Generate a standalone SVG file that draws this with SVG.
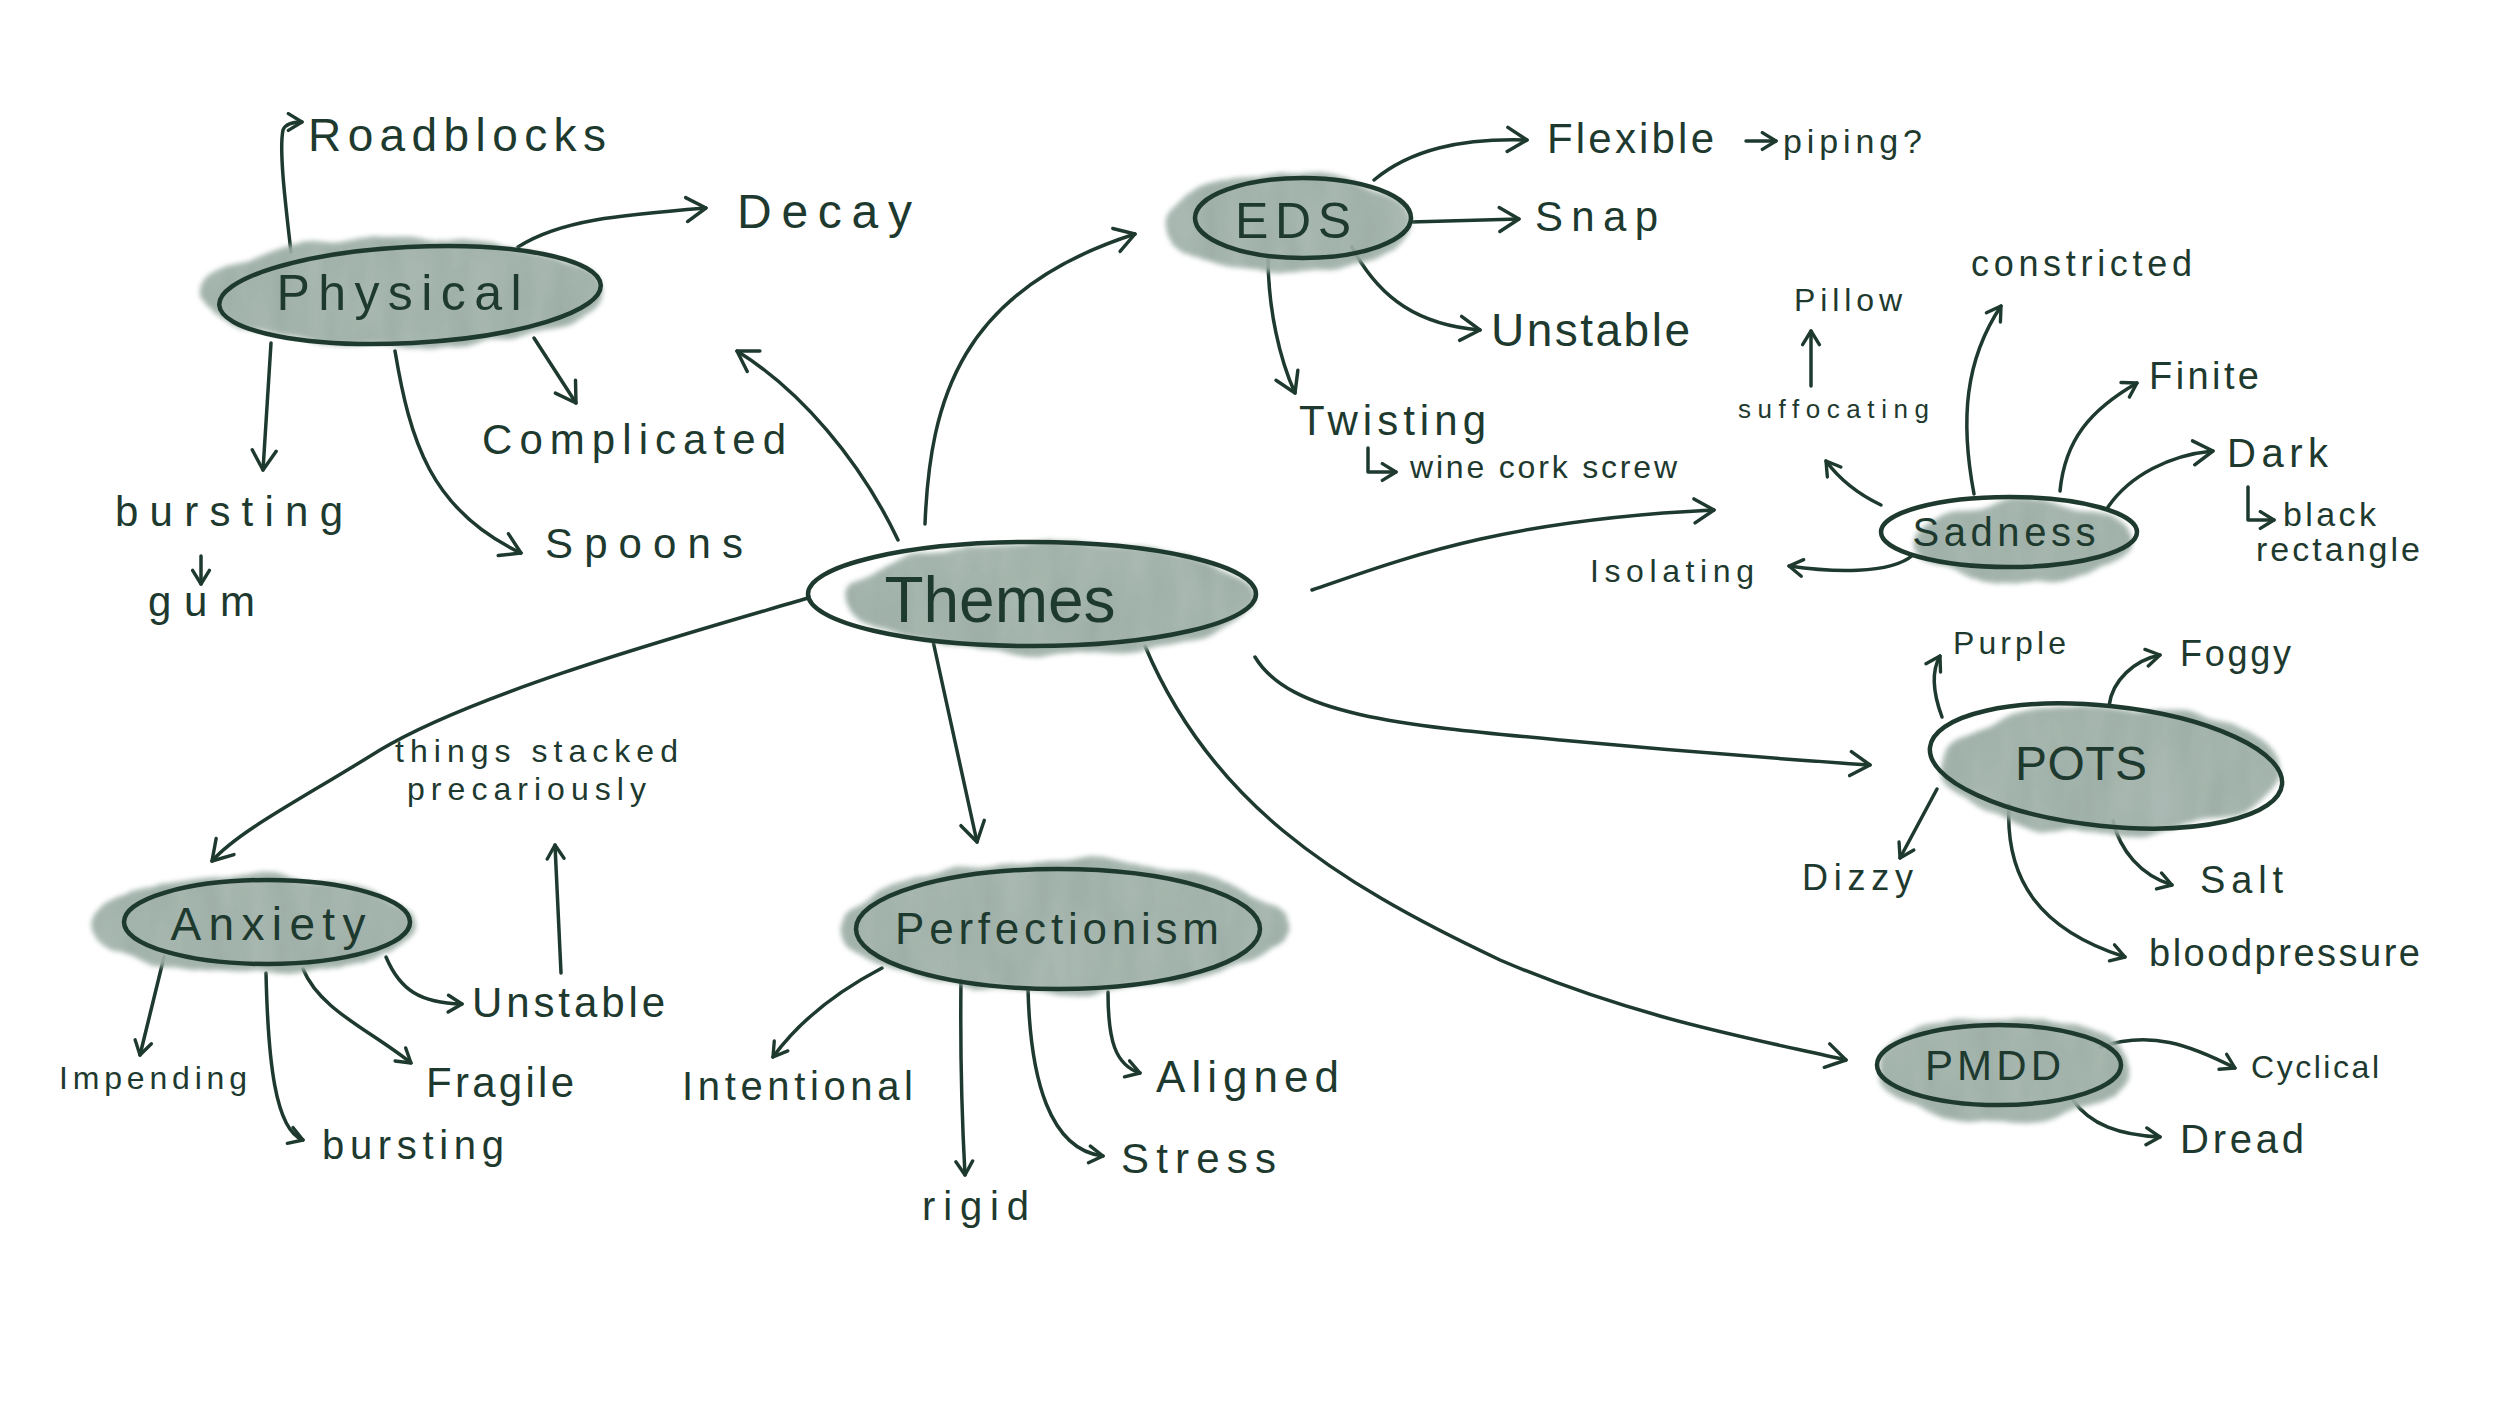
<svg xmlns="http://www.w3.org/2000/svg" width="2500" height="1407" viewBox="0 0 2500 1407">
<style>
.ln{fill:none;stroke:#1e3a2f;stroke-width:3.5;stroke-linecap:round;stroke-linejoin:round}
.ol{fill:none;stroke:#1e3a2f;stroke-width:4.5}
.bl{fill:#93a69d;opacity:0.92}
text{font-family:"Liberation Sans","DejaVu Sans",sans-serif;fill:#1e3a2f}
.nt{text-anchor:middle}
</style>
<defs>
<filter id="wash" x="-20%" y="-40%" width="140%" height="180%">
<feTurbulence type="fractalNoise" baseFrequency="0.018" numOctaves="2" seed="7" result="n"/>
<feDisplacementMap in="SourceGraphic" in2="n" scale="16" xChannelSelector="R" yChannelSelector="G" result="d"/>
<feGaussianBlur in="d" stdDeviation="2.5" result="b"/>
<feTurbulence type="fractalNoise" baseFrequency="0.04 0.012" numOctaves="2" seed="2" result="t"/>
<feColorMatrix in="t" type="matrix" values="0 0 0 0 0.55  0 0 0 0 0.63  0 0 0 0 0.6  0 0 0 0.35 0" result="tc"/>
<feComposite in="tc" in2="b" operator="in" result="tx"/>
<feMerge><feMergeNode in="b"/><feMergeNode in="tx"/></feMerge>
</filter>
<marker id="ah" viewBox="0 0 20 20" refX="16" refY="10" markerWidth="30" markerHeight="30" markerUnits="userSpaceOnUse" orient="auto">
<path d="M3,2 L16,10 L3,18" fill="none" stroke="#1e3a2f" stroke-width="2.3" stroke-linecap="round" stroke-linejoin="round"/>
</marker>
<marker id="as" viewBox="0 0 20 20" refX="16" refY="10" markerWidth="21" markerHeight="21" markerUnits="userSpaceOnUse" orient="auto">
<path d="M3,2 L16,10 L3,18" fill="none" stroke="#1e3a2f" stroke-width="3.2" stroke-linecap="round" stroke-linejoin="round"/>
</marker>
</defs>
<rect width="2500" height="1407" fill="#ffffff"/>

<g id="connectors" class="ln">
<path d="M291,252 C285,200 279,150 283,130 Q286,122 302,122" marker-end="url(#as)"/>
<path d="M518,247 C560,220 620,215 706,208" marker-end="url(#ah)"/>
<path d="M534,338 L576,403" marker-end="url(#ah)"/>
<path d="M395,351 C410,440 430,510 521,553" marker-end="url(#ah)"/>
<path d="M271,343 L263,470" marker-end="url(#ah)"/>
<path d="M201,556 L201,584" marker-end="url(#as)"/>
<path d="M898,540 C860,460 800,390 737,351" marker-end="url(#ah)"/>
<path d="M925,524 C930,400 960,290 1135,234" marker-end="url(#ah)"/>
<path d="M1374,180 C1410,150 1460,138 1527,140" marker-end="url(#ah)"/>
<path d="M1411,222 L1519,219" marker-end="url(#ah)"/>
<path d="M1352,247 C1380,300 1420,325 1480,330" marker-end="url(#ah)"/>
<path d="M1268,256 C1268,310 1280,360 1295,393" marker-end="url(#ah)"/>
<path d="M1746,141 L1776,141" marker-end="url(#as)"/>
<path d="M1368,448 L1368,472 L1396,472" marker-end="url(#as)"/>
<path d="M1312,590 C1400,560 1500,520 1714,510" marker-end="url(#ah)"/>
<path d="M1913,555 C1890,575 1830,572 1789,566" marker-end="url(#as)"/>
<path d="M1881,505 C1860,495 1840,480 1826,461" marker-end="url(#as)"/>
<path d="M1811,386 L1811,331" marker-end="url(#as)"/>
<path d="M1974,494 C1960,420 1965,360 2001,306" marker-end="url(#as)"/>
<path d="M2060,491 C2065,440 2090,410 2137,383" marker-end="url(#as)"/>
<path d="M2108,507 C2130,475 2170,455 2213,451" marker-end="url(#ah)"/>
<path d="M2248,487 L2248,520 L2274,520" marker-end="url(#as)"/>
<path d="M1255,657 C1290,715 1400,725 1560,740 S1800,760 1870,765" marker-end="url(#ah)"/>
<path d="M1942,717 C1932,690 1932,670 1940,656" marker-end="url(#as)"/>
<path d="M2109,706 C2112,680 2135,660 2160,655" marker-end="url(#as)"/>
<path d="M1937,789 L1900,858" marker-end="url(#as)"/>
<path d="M2113,821 C2120,850 2140,875 2172,885" marker-end="url(#as)"/>
<path d="M2009,805 C2005,880 2040,930 2125,957" marker-end="url(#as)"/>
<path d="M1145,646 C1210,800 1330,880 1500,960 C1640,1020 1760,1040 1846,1060" marker-end="url(#ah)"/>
<path d="M2101,1047 C2150,1030 2190,1045 2235,1068" marker-end="url(#as)"/>
<path d="M2073,1100 C2090,1125 2120,1135 2160,1137" marker-end="url(#as)"/>
<path d="M933,641 C950,720 965,790 977,842" marker-end="url(#ah)"/>
<path d="M882,968 C840,990 800,1020 773,1057" marker-end="url(#as)"/>
<path d="M961,980 C960,1060 962,1120 965,1175" marker-end="url(#as)"/>
<path d="M1028,988 C1030,1080 1050,1150 1103,1156" marker-end="url(#as)"/>
<path d="M1108,992 C1108,1040 1115,1065 1140,1073" marker-end="url(#as)"/>
<path d="M808,598 C700,630 480,690 380,750 C300,800 240,830 212,861" marker-end="url(#ah)"/>
<path d="M164,957 L140,1055" marker-end="url(#as)"/>
<path d="M266,973 C268,1060 275,1130 303,1140" marker-end="url(#as)"/>
<path d="M303,969 C320,1010 370,1030 411,1063" marker-end="url(#as)"/>
<path d="M386,957 C400,990 420,1003 462,1004" marker-end="url(#as)"/>
<path d="M561,973 L555,845" marker-end="url(#as)"/>
</g>

<g id="node-themes">
<ellipse class="bl" cx="1052" cy="598" rx="205" ry="55" filter="url(#wash)"/>
<ellipse class="ol" cx="1032" cy="594" rx="224" ry="52"/>
<text class="nt" x="1000" y="622" font-size="64" textLength="231" lengthAdjust="spacing">Themes</text>
</g>
<g id="node-physical">
<ellipse class="bl" cx="402" cy="292" rx="200" ry="54" filter="url(#wash)"/>
<ellipse class="ol" cx="410" cy="295" rx="191" ry="48" transform="rotate(-3 410 295)"/>
<text class="nt" x="399" y="310" font-size="50" textLength="245" lengthAdjust="spacing">Physical</text>
</g>
<g id="node-eds">
<ellipse class="bl" cx="1288" cy="223" rx="122" ry="49" filter="url(#wash)"/>
<ellipse class="ol" cx="1303" cy="218" rx="108" ry="40"/>
<text class="nt" x="1293" y="238" font-size="50" textLength="116" lengthAdjust="spacing">EDS</text>
</g>
<g id="node-sadness">
<ellipse class="bl" cx="2022" cy="541" rx="106" ry="40" filter="url(#wash)"/>
<ellipse class="ol" cx="2009" cy="532" rx="128" ry="35"/>
<text class="nt" x="2004" y="546" font-size="40" textLength="183" lengthAdjust="spacing">Sadness</text>
</g>
<g id="node-pots">
<ellipse class="bl" cx="2110" cy="770" rx="170" ry="64" filter="url(#wash)"/>
<ellipse class="ol" cx="2106" cy="766" rx="177" ry="60" transform="rotate(6 2106 766)"/>
<text class="nt" x="2081" y="780" font-size="48" textLength="132" lengthAdjust="spacing">POTS</text>
</g>
<g id="node-pmdd">
<ellipse class="bl" cx="2003" cy="1070" rx="127" ry="52" filter="url(#wash)"/>
<ellipse class="ol" cx="1999" cy="1065" rx="122" ry="40"/>
<text class="nt" x="1993" y="1080" font-size="42" textLength="136" lengthAdjust="spacing">PMDD</text>
</g>
<g id="node-perfectionism">
<ellipse class="bl" cx="1064" cy="927" rx="222" ry="66" filter="url(#wash)"/>
<ellipse class="ol" cx="1058" cy="929" rx="202" ry="60"/>
<text class="nt" x="1057" y="944" font-size="44" textLength="324" lengthAdjust="spacing">Perfectionism</text>
</g>
<g id="node-anxiety">
<ellipse class="bl" cx="253" cy="925" rx="162" ry="49" filter="url(#wash)"/>
<ellipse class="ol" cx="267" cy="922" rx="143" ry="42"/>
<text class="nt" x="268" y="940" font-size="46" textLength="195" lengthAdjust="spacing">Anxiety</text>
</g>

<g id="labels">
<text x="308" y="151" font-size="46" textLength="298" lengthAdjust="spacing">Roadblocks</text>
<text x="737" y="228" font-size="48" textLength="175" lengthAdjust="spacing">Decay</text>
<text x="482" y="454" font-size="42" textLength="304" lengthAdjust="spacing">Complicated</text>
<text x="545" y="558" font-size="42" textLength="198" lengthAdjust="spacing">Spoons</text>
<text x="115" y="526" font-size="42" textLength="228" lengthAdjust="spacing">bursting</text>
<text x="148" y="616" font-size="42" textLength="107" lengthAdjust="spacing">gum</text>
<text x="1547" y="153" font-size="42" textLength="167" lengthAdjust="spacing">Flexible</text>
<text x="1783" y="153" font-size="34" textLength="139" lengthAdjust="spacing">piping?</text>
<text x="1535" y="231" font-size="42" textLength="123" lengthAdjust="spacing">Snap</text>
<text x="1491" y="346" font-size="46" textLength="199" lengthAdjust="spacing">Unstable</text>
<text x="1299" y="435" font-size="42" textLength="187" lengthAdjust="spacing">Twisting</text>
<text x="1410" y="478" font-size="32" textLength="267" lengthAdjust="spacing">wine cork screw</text>
<text x="1794" y="311" font-size="32" textLength="108" lengthAdjust="spacing">Pillow</text>
<text x="1738" y="418" font-size="26" textLength="191" lengthAdjust="spacing">suffocating</text>
<text x="1971" y="276" font-size="36" textLength="221" lengthAdjust="spacing">constricted</text>
<text x="2149" y="389" font-size="38" textLength="110" lengthAdjust="spacing">Finite</text>
<text x="2227" y="467" font-size="40" textLength="101" lengthAdjust="spacing">Dark</text>
<text x="2283" y="526" font-size="34" textLength="93" lengthAdjust="spacing">black</text>
<text x="2256" y="561" font-size="34" textLength="164" lengthAdjust="spacing">rectangle</text>
<text x="1590" y="582" font-size="32" textLength="164" lengthAdjust="spacing">Isolating</text>
<text x="1953" y="654" font-size="32" textLength="113" lengthAdjust="spacing">Purple</text>
<text x="2180" y="666" font-size="36" textLength="111" lengthAdjust="spacing">Foggy</text>
<text x="1802" y="890" font-size="36" textLength="111" lengthAdjust="spacing">Dizzy</text>
<text x="2200" y="893" font-size="38" textLength="83" lengthAdjust="spacing">Salt</text>
<text x="2149" y="966" font-size="38" textLength="271" lengthAdjust="spacing">bloodpressure</text>
<text x="2251" y="1078" font-size="32" textLength="128" lengthAdjust="spacing">Cyclical</text>
<text x="2180" y="1153" font-size="40" textLength="124" lengthAdjust="spacing">Dread</text>
<text x="682" y="1100" font-size="40" textLength="231" lengthAdjust="spacing">Intentional</text>
<text x="922" y="1220" font-size="40" textLength="107" lengthAdjust="spacing">rigid</text>
<text x="1121" y="1173" font-size="42" textLength="155" lengthAdjust="spacing">Stress</text>
<text x="1156" y="1092" font-size="44" textLength="183" lengthAdjust="spacing">Aligned</text>
<text x="59" y="1089" font-size="32" textLength="188" lengthAdjust="spacing">Impending</text>
<text x="322" y="1159" font-size="40" textLength="182" lengthAdjust="spacing">bursting</text>
<text x="426" y="1097" font-size="42" textLength="148" lengthAdjust="spacing">Fragile</text>
<text x="472" y="1017" font-size="42" textLength="193" lengthAdjust="spacing">Unstable</text>
<text x="395" y="762" font-size="32" textLength="283" lengthAdjust="spacing">things stacked</text>
<text x="407" y="800" font-size="32" textLength="239" lengthAdjust="spacing">precariously</text>
</g>
</svg>
